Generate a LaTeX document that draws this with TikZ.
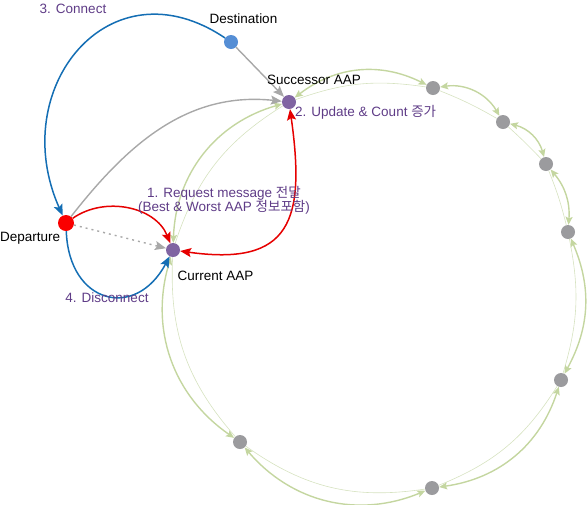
\documentclass[tikz,border=0pt]{standalone}
\usepackage{fontspec}
\setmainfont{Liberation Sans}
\newfontfamily\kr{Noto Sans CJK KR}
\usetikzlibrary{arrows.meta}
\definecolor{nodeblue}{RGB}{85,142,213}
\definecolor{nodepurple}{RGB}{128,100,162}
\definecolor{nodered}{RGB}{250,0,0}
\definecolor{nodegray}{RGB}{155,155,158}
\definecolor{edgeblue}{RGB}{20,110,180}
\definecolor{edgered}{RGB}{230,0,0}
\definecolor{edgegray}{RGB}{168,168,168}
\definecolor{ringgreen}{RGB}{196,214,160}
\definecolor{ringlight}{RGB}{214,226,192}
\definecolor{txtpurple}{RGB}{95,60,135}
\tikzset{
  dot/.style={circle,inner sep=0pt,minimum size=14pt,draw=none},
  lbl/.style={inner sep=0pt,font=\fontsize{13.5}{15}\selectfont},
  plbl/.style={lbl,text=txtpurple},
  bigtip/.style={-{Stealth[length=11pt,width=9pt,inset=2pt]}},
  bluearrow/.style={bigtip,draw=edgeblue,line width=1.5pt},
  redarrow/.style={bigtip,draw=edgered,line width=1.5pt},
  grayarrow/.style={bigtip,draw=edgegray,line width=1.4pt},
  ringthick/.style={{Stealth[length=8pt,width=7pt,inset=1.5pt]}-{Stealth[length=8pt,width=7pt,inset=1.5pt]},draw=ringgreen,line width=1.4pt},
  ringthin/.style={draw=ringlight,line width=0.6pt}
}
\begin{document}
\begin{tikzpicture}[x=1pt,y=-1pt]
\useasboundingbox (0,0) rectangle (588,504);
% nodes
\node[dot,fill=nodeblue] (d) at (231,42) {};
\node[dot,fill=nodepurple] (s) at (289,102) {};
\node[dot,fill=nodered,minimum size=16pt] (p) at (66,223) {};
\node[dot,fill=nodepurple] (c) at (173,250) {};
\node[dot,fill=nodegray] (g1) at (433,88) {};
\node[dot,fill=nodegray] (g2) at (503,122) {};
\node[dot,fill=nodegray] (g3) at (546,164) {};
\node[dot,fill=nodegray] (g4) at (568,232) {};
\node[dot,fill=nodegray] (g5) at (561,380) {};
\node[dot,fill=nodegray] (g6) at (432,488) {};
\node[dot,fill=nodegray] (g7) at (240,442) {};
% ring
\foreach \a/\b/\t/\n in {s/g1/32/14, g1/g2/34/4, g2/g3/30/2, g3/g4/22/4, g4/g5/26/14, g5/g6/32/18, g6/g7/36/22, g7/c/36/22, c/s/36/20}{
  \draw[ringthin] (\a) to[bend left=\n] (\b);
  \draw[ringthick] (\a) to[bend left=\t] (\b);
}
% other connectors
\draw[grayarrow] (d) -- (s);
\draw[grayarrow] (p) to[out=52,in=174] (s);
\draw[grayarrow,dash pattern=on 2pt off 4pt] (p) -- (c);
\draw[redarrow] (p) to[out=35,in=112] (c);
\draw[{Stealth[length=11pt,width=9pt,inset=2pt]}-{Stealth[length=11pt,width=9pt,inset=2pt]},draw=edgered,line width=1.5pt] (c) to[out=-8,in=-82,looseness=1.6] (s);
\draw[bluearrow] (d) to[out=146,in=114,looseness=1.48] (p);
\draw[bluearrow] (p) to[out=-88,in=-118,looseness=1.75] (c);
% labels
\node[plbl] (t3) at (73,9) {3. Connect};
\node[lbl] (td) at (243.5,19) {Destination};
\node[lbl] (ts) at (314,80) {Successor AAP};
\node[plbl,anchor=west] (t2) at (295,112) {2. Update \& Count {\kr 증가}};
\node[plbl] (t1a) at (224,193) {1. Request message {\kr 전달}};
\node[plbl] (t1b) at (224,207) {(Best \& Worst AAP {\kr 정보포함})};
\node[lbl,anchor=west] (tp) at (0,238) {Departure};
\node[lbl] (tc) at (215.5,276) {Current AAP};
\node[plbl] (t4) at (107,298) {4. Disconnect};
\end{tikzpicture}
\end{document}
